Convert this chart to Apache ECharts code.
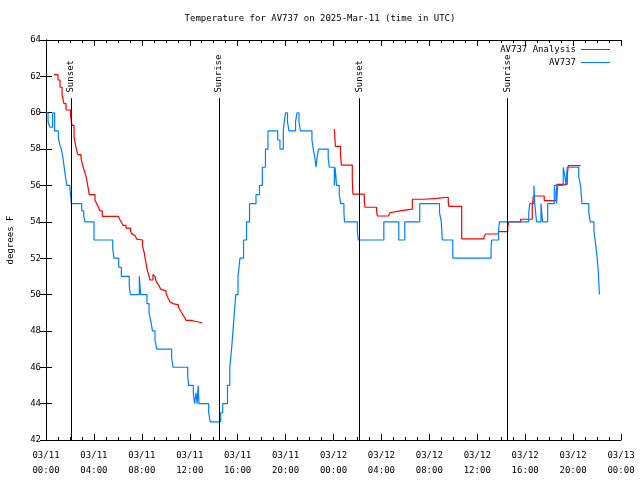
<!DOCTYPE html>
<html><head><meta charset="utf-8">
<script src="https://cdn.jsdelivr.net/npm/echarts@6/dist/echarts.min.js"></script>
<style>html,body{margin:0;padding:0;background:#fff}#c{width:640px;height:480px}</style>
</head><body><div id="c"></div>
<script>
const FONT = 'DejaVu Sans Mono';
const titleText = 'Temperature for AV737 on 2025-Mar-11 (time in UTC)';
const xTickLabels = ['03/11\n00:00','03/11\n04:00','03/11\n08:00','03/11\n12:00','03/11\n16:00','03/11\n20:00',
  '03/12\n00:00','03/12\n04:00','03/12\n08:00','03/12\n12:00','03/12\n16:00','03/12\n20:00','03/13\n00:00'];
// hours since 03/11 00:00 UTC
const eventHours = [2.09, 14.45, 26.15, 38.5];
const eventNames = ['Sunset', 'Sunrise', 'Sunset', 'Sunrise'];

const obsHours = [0.00,0.17,0.33,0.55,0.72,1.03,1.17,1.28,1.42,1.52,1.62,1.73,2.00,2.12,2.98,3.15,3.26,4.01,5.57,5.68,
  6.07,6.29,6.95,7.04,7.79,7.90,8.43,8.60,8.76,8.89,9.10,9.24,10.49,10.60,11.83,11.91,12.30,12.40,12.52,12.62,
  12.70,12.77,13.58,13.71,14.58,14.75,15.15,15.34,15.49,15.61,15.72,15.84,16.03,16.19,16.49,16.74,16.99,17.53,17.82,18.06,
  18.32,18.53,19.34,19.53,19.81,19.89,19.99,20.16,20.28,20.83,20.95,21.12,21.24,22.20,22.31,22.45,22.54,22.62,22.75,23.56,
  23.65,24.07,24.13,24.20,24.25,24.48,24.60,24.87,24.92,25.99,26.07,26.15,28.20,29.45,29.95,31.20,32.85,33.00,33.08,33.96,
  37.15,37.20,37.78,37.85,40.30,40.38,40.73,40.80,40.95,41.32,41.45,41.88,42.43,42.63,42.71,43.18,43.32,43.41,43.51,44.47,
  44.62,44.74,45.31,45.43,45.74,45.84,45.93,46.01,46.10,46.20];
const obsTemps = [60,59.5,59.2,60,59,58.6,58.2,58,57.5,57,56.5,56,55.8,55,54.6,54.3,54,53,52.5,52,
  51.5,51,50.5,50,51,50,49.5,49,48.5,48,47.5,47,46.5,46,45.5,45,44.5,44,44.6,44,
  45,44,43.5,43,43.5,44,45,46,47,48,49,50,51,52,53,54,55,55.5,56,57,
  58,59,58.5,58,59,59.5,60,59.5,59,59.5,60,59.5,59,58.5,58,57.5,57,57.5,58,57.5,
  57,56,57,56.5,56,55.5,55,54.5,54,53.5,53,53,54,53,54,55,54.5,54,53,52,
  52.5,53,53.5,54,54.5,55,56,55,54,55,54,55,56,55,56,57,56.5,56,57,56.5,
  56,55,54.5,54,53.5,53,52.5,52,51.3,50];

const anaHours1 = [0.67,1.00,1.17,1.34,1.50,1.67,2.05,2.17,2.34,2.50,2.65,2.92,3.06,3.20,3.34,3.48,3.61,4.09,4.23,4.38,
  4.51,4.70,6.05,6.18,6.32,6.45,6.68,7.05,7.15,7.29,7.43,7.57,7.70,8.06,8.12,8.20,8.26,8.33,8.41,8.47,
  8.54,8.61,8.68,8.93,9.02,9.10,9.18,9.31,9.46,9.56,9.66,10.02,10.12,10.23,10.35,10.48,10.60,11.06,11.19,11.33,
  11.46,11.60,11.69,12.10,12.44,13.02];
const anaTemps1 = [62.1,61.8,61.4,61.0,60.5,60.15,59.8,59.3,58.7,58.1,57.7,57.5,57.1,56.8,56.5,56.0,55.5,55.2,55.0,54.8,
  54.6,54.3,54.2,54.1,53.95,53.8,53.65,53.5,53.35,53.25,53.15,53.05,53.0,52.7,52.5,52.3,52.05,51.8,51.5,51.3,
  51.15,51.0,50.8,51.1,51.0,50.9,50.75,50.6,50.45,50.3,50.2,50.05,49.9,49.75,49.6,49.5,49.43,49.3,49.15,49.0,
  48.85,48.7,48.58,48.53,48.45,48.45];
const anaHours2 = [24.07,24.12,24.16,24.58,24.66,25.57,25.62,26.57,26.63,27.60,27.66,28.59,28.70,28.84,29.55,30.58,31.64,32.60,33.58,33.63,
  34.70,36.56,36.70,37.76,38.54,38.62,39.62,40.59,40.68,41.59,42.57,42.65,43.51,43.60,44.63];
const anaTemps2 = [59.1,58.6,58.15,57.7,57.12,56.3,55.52,55.17,54.8,54.56,54.32,54.41,54.5,54.6,54.7,55.24,55.29,55.35,55.1,54.85,
  53.06,53.18,53.33,53.46,53.7,54.0,54.14,54.84,55.42,55.17,55.6,56.06,56.58,57.09,57.09];

const RED = '#ff0000', BLUE = '#0080ff';
const pair = (hs, vs) => hs.map((h, i) => [h, vs[i]]);
const txt = {fontFamily: FONT, fontSize: 9, color: '#000'};

const markData = [];
eventHours.forEach((h, i) => {
  markData.push([{coord: [h, 42], lineStyle: {color: '#000', width: 1, type: 'solid'}, label: {show: false}}, {coord: [h, 60.8]}]);
  markData.push([{coord: [h, 61.0], lineStyle: {color: 'rgba(0,0,0,0)', width: 0},
    label: {show: true, formatter: eventNames[i], position: 'insideStart', distance: 2, color: '#000', fontFamily: FONT, fontSize: 9}},
    {coord: [h, 64]}]);
});

const axisLine = {show: true, lineStyle: {color: '#000', width: 1}};
const xBase = {type: 'value', min: 0, max: 48, interval: 4, axisLine,
  axisTick: {show: true, inside: true, length: 6, lineStyle: {color: '#000'}},
  minorTick: {show: true, splitNumber: 4, length: 3, lineStyle: {color: '#000'}},
  splitLine: {show: false}};
const yBase = {type: 'value', min: 42, max: 64, interval: 2, axisLine,
  axisTick: {show: true, inside: true, length: 6, lineStyle: {color: '#000'}},
  splitLine: {show: false}};

const option = {
  backgroundColor: '#fff',
  animation: false,
  title: {text: titleText, left: 'center', top: 14, padding: 0, textStyle: {fontFamily: FONT, fontSize: 9, fontWeight: 'normal', color: '#000'}},
  legend: [
    {data: ['AV737 Analysis'], right: 30, top: 45, orient: 'vertical', align: 'right', icon: 'rect', itemWidth: 29, itemHeight: 1,
     padding: 0, selectedMode: false, textStyle: txt},
    {data: ['AV737'], right: 30, top: 58, orient: 'vertical', align: 'right', icon: 'rect', itemWidth: 29, itemHeight: 1,
     padding: 0, selectedMode: false, textStyle: txt}
  ],
  grid: {left: 46, right: 19, top: 40, bottom: 40, containLabel: false, outerBoundsMode: 'none'},
  xAxis: [
    Object.assign({}, xBase, {position: 'bottom', axisLabel: Object.assign({}, txt, {margin: 8, lineHeight: 15,
      formatter: v => xTickLabels[Math.round(v / 4)]})}),
    Object.assign({}, xBase, {position: 'top', axisLabel: {show: false}})
  ],
  yAxis: [
    Object.assign({}, yBase, {position: 'left', name: 'degrees F', nameLocation: 'middle', nameGap: 31, nameRotate: 90,
      nameTextStyle: txt, axisLabel: Object.assign({}, txt, {margin: 5})}),
    Object.assign({}, yBase, {position: 'right', axisLabel: {show: false}})
  ],
  series: [
    {name: 'AV737 Analysis', type: 'line', step: 'end', data: pair(anaHours1, anaTemps1), showSymbol: false,
     lineStyle: {color: RED, width: 1.2}, itemStyle: {color: RED}, silent: true},
    {name: 'AV737 Analysis', type: 'line', step: 'end', data: pair(anaHours2, anaTemps2), showSymbol: false,
     lineStyle: {color: RED, width: 1.2}, itemStyle: {color: RED}, silent: true},
    {name: 'AV737', type: 'line', step: 'end', data: pair(obsHours, obsTemps), showSymbol: false,
     lineStyle: {color: BLUE, width: 1.2}, itemStyle: {color: BLUE}, silent: true,
     markLine: {silent: true, symbol: ['none', 'none'], animation: false, data: markData}}
  ]
};
const chart = echarts.init(document.getElementById('c'));
chart.setOption(option);
</script></body></html>
